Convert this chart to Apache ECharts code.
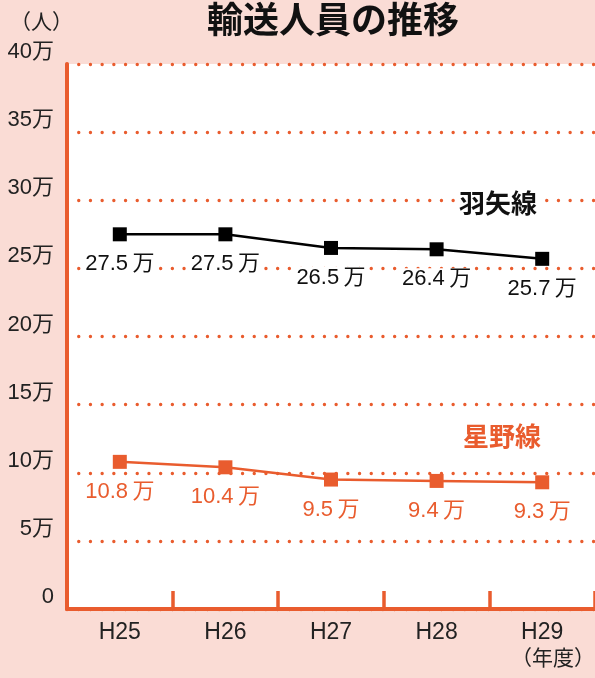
<!DOCTYPE html>
<html>
<head>
<meta charset="utf-8">
<script src="https://cdn.jsdelivr.net/npm/echarts@6/dist/echarts.min.js"></script>
<style>
html,body{margin:0;padding:0;background:#fadcd5;}
#chart{width:595px;height:678px;}
</style>
</head>
<body>
<div id="chart"></div>
<script>
var years = ['H25', 'H26', 'H27', 'H28', 'H29'];
var hayaValues = [27.5, 27.5, 26.5, 26.4, 25.7];
var hoshinoValues = [10.8, 10.4, 9.5, 9.4, 9.3];
var yTicks = ['0', '5万', '10万', '15万', '20万', '25万', '30万', '35万', '40万'];

var orange = '#e95c2e';
var font = '"Liberation Sans", "Noto Sans CJK JP", sans-serif';
var cjk = '"Noto Sans CJK JP", sans-serif';

var dom = document.getElementById('chart');
var myChart = echarts.init(dom);

function valueLabel(color) {
    return {
        show: true,
        position: 'bottom',
        distance: 12,
        color: color,
        fontSize: 22,
        fontFamily: font,
        backgroundColor: '#fff',
        padding: [0, 2],
        formatter: function (p) { return p.value + '\u2009万'; }
    };
}

var option = {
    backgroundColor: '#fadcd5',
    textStyle: {fontFamily: font},
    title: {
        text: '輸送人員の推移',
        left: 328,
        textAlign: 'center',
        top: -4,
        textStyle: {fontSize: 36, fontWeight: 'bold', color: '#111', fontFamily: cjk}
    },
    grid: {
        left: 67, right: -1, top: 64, bottom: 69,
        show: true, backgroundColor: '#fff', borderWidth: 0
    },
    xAxis: {
        type: 'category',
        data: years,
        boundaryGap: true,
        axisLine: {lineStyle: {color: orange, width: 4}},
        axisTick: {show: true, inside: true, length: 18, lineStyle: {color: orange, width: 3.5}},
        axisLabel: {color: '#222', fontSize: 23, margin: 12, fontFamily: font}
    },
    yAxis: {
        type: 'value',
        min: 0, max: 40, interval: 5,
        axisLine: {show: true, lineStyle: {color: orange, width: 4}},
        axisTick: {show: false},
        axisLabel: {
            color: '#222', fontSize: 22, margin: 13, fontFamily: font,
            verticalAlign: 'bottom', lineHeight: 24,
            formatter: function (v) { return yTicks[v / 5]; }
        },
        splitLine: {
            show: true,
            lineStyle: {color: orange, width: 3.3, type: [0.1, 11.6], cap: 'round'}
        }
    },
    series: [
        {
            name: '羽矢線',
            type: 'line',
            data: hayaValues,
            symbol: 'rect',
            symbolSize: 14,
            lineStyle: {color: '#000', width: 2.5},
            itemStyle: {color: '#000'},
            label: valueLabel('#111'),
            z: 3
        },
        {
            name: '星野線',
            type: 'line',
            data: hoshinoValues,
            symbol: 'rect',
            symbolSize: 14,
            lineStyle: {color: orange, width: 2.5},
            itemStyle: {color: orange},
            label: valueLabel(orange),
            z: 3
        }
    ],
    graphic: [
        {type: 'text', left: 10, top: 11, style: {text: '（人）', fill: '#222', font: '21px ' + cjk}},
        {type: 'text', right: 0, top: 647, style: {text: '（年度）', fill: '#222', font: '21px ' + cjk}},
        {type: 'text', left: 456, top: 190, z: 10, style: {text: '羽矢線', fill: '#111', font: 'bold 26px ' + cjk, backgroundColor: '#fff', padding: [0, 3]}},
        {type: 'text', left: 460, top: 423, z: 10, style: {text: '星野線', fill: orange, font: 'bold 26px ' + cjk, backgroundColor: '#fff', padding: [0, 3]}}
    ]
};

myChart.setOption(option);
</script>
</body>
</html>
